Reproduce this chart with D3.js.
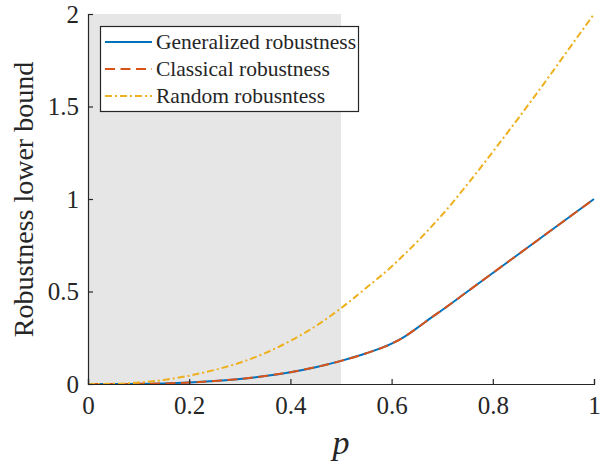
<!DOCTYPE html>
<html><head><meta charset="utf-8">
<script src="https://cdn.jsdelivr.net/npm/d3@7"></script>
<style>body{margin:0;background:#fff;} svg{display:block;} text{font-family:"Liberation Serif",serif;fill:#262626;}</style>
</head><body>
<svg id="chart" width="611" height="468"></svg>
<script>
const pValues = [0,0.05,0.1,0.15,0.2,0.25,0.3,0.35,0.4,0.45,0.5,0.55,0.6,0.625,0.65,0.675,0.7,0.75,0.8,0.85,0.9,0.95,1];
const generalized = [0,0.0001,0.001,0.003,0.008,0.016,0.027,0.043,0.064,0.091,0.125,0.166,0.218,0.255,0.302,0.352,0.4,0.5,0.6,0.7,0.8,0.9,1];
const classical  = [0,0.0001,0.001,0.003,0.008,0.016,0.027,0.043,0.064,0.091,0.125,0.166,0.218,0.255,0.302,0.352,0.4,0.5,0.6,0.7,0.8,0.9,1];
const randomRob  = [0,0.001,0.008,0.022,0.045,0.076,0.115,0.167,0.233,0.313,0.41,0.52,0.635,0.70,0.767,0.84,0.915,1.08,1.255,1.435,1.62,1.81,2.0];
const xTicks = [0,0.2,0.4,0.6,0.8,1];
const yTicks = [0,0.5,1,1.5,2];
const xTickLabels = ["0","0.2","0.4","0.6","0.8","1"];
const yTickLabels = ["0","0.5","1","1.5","2"];
const shadedRange = [0,0.5];
const seriesNames = ["Generalized robustness","Classical robustness","Random robusntess"];

const FONT = "Liberation Serif, serif";
const svg = d3.select("#chart");
const L=88,R=594,T=14,B=384;
const x = d3.scaleLinear().domain([0,1]).range([L,R]);
const y = d3.scaleLinear().domain([0,2]).range([B,T]);
const axisColor="#262626";

svg.append("rect").attr("x",x(shadedRange[0])).attr("y",T)
  .attr("width",x(shadedRange[1])-x(shadedRange[0])).attr("height",B-T).attr("fill","#e6e6e6");

const series = [
  {name:seriesNames[0], vals:generalized, color:"#0072BD", dash:null},
  {name:seriesNames[1], vals:classical, color:"#D95319", dash:"10,5.5"},
  {name:seriesNames[2], vals:randomRob, color:"#EDB120", dash:"7,3,2,3"}
];
const line = d3.line().x(d=>x(d[0])).y(d=>y(d[1])).curve(d3.curveMonotoneX);
series.forEach(s=>{
  svg.append("path").datum(pValues.map((p,i)=>[p,s.vals[i]]))
    .attr("d",line).attr("fill","none").attr("stroke",s.color).attr("stroke-width",2)
    .attr("stroke-dasharray",s.dash);
});

const xAxis = d3.axisBottom(x).tickValues(xTicks).tickSize(-5).tickPadding(13)
  .tickFormat((d,i)=>xTickLabels[i]);
const gx = svg.append("g").attr("transform",`translate(0,${B})`).call(xAxis);
const yAxis = d3.axisLeft(y).tickValues(yTicks).tickSize(-5).tickPadding(9)
  .tickFormat((d,i)=>yTickLabels[i]);
const gy = svg.append("g").attr("transform",`translate(${L},0)`).call(yAxis);
[gx,gy].forEach(g=>{
  g.attr("font-family",FONT);
  g.select(".domain").attr("stroke",axisColor).attr("stroke-width",1.2);
  g.selectAll(".tick line").attr("stroke",axisColor).attr("stroke-width",1.2);
  g.selectAll(".tick text").attr("font-family",FONT).attr("font-size",25).attr("fill",axisColor);
});
gx.selectAll(".tick text").attr("dy","0.68em");
gy.selectAll(".tick text").attr("dy","0.33em");

svg.append("text").attr("x",x(0.5)).attr("y",454).attr("text-anchor","middle")
  .attr("font-family",FONT).attr("font-style","italic").attr("font-size",34).text("p");
svg.append("text").attr("transform",`translate(33,${(57+342)/2}) rotate(-90)`)
  .attr("font-family",FONT).attr("text-anchor","middle").attr("font-size",28).text("Robustness lower bound");

const lg = svg.append("g");
lg.append("rect").attr("x",100.5).attr("y",26.5).attr("width",258).attr("height",85)
  .attr("fill","#fff").attr("stroke",axisColor).attr("stroke-width",1.2);
series.forEach((s,i)=>{
  const cy = 42 + i*27;
  lg.append("line").attr("x1",105).attr("x2",152).attr("y1",cy).attr("y2",cy)
    .attr("stroke",s.color).attr("stroke-width",2).attr("stroke-dasharray",s.dash);
  lg.append("text").attr("x",156).attr("y",cy).attr("dy","0.33em")
    .attr("font-family",FONT).attr("font-size",21.5).text(s.name);
});
</script>
</body></html>
